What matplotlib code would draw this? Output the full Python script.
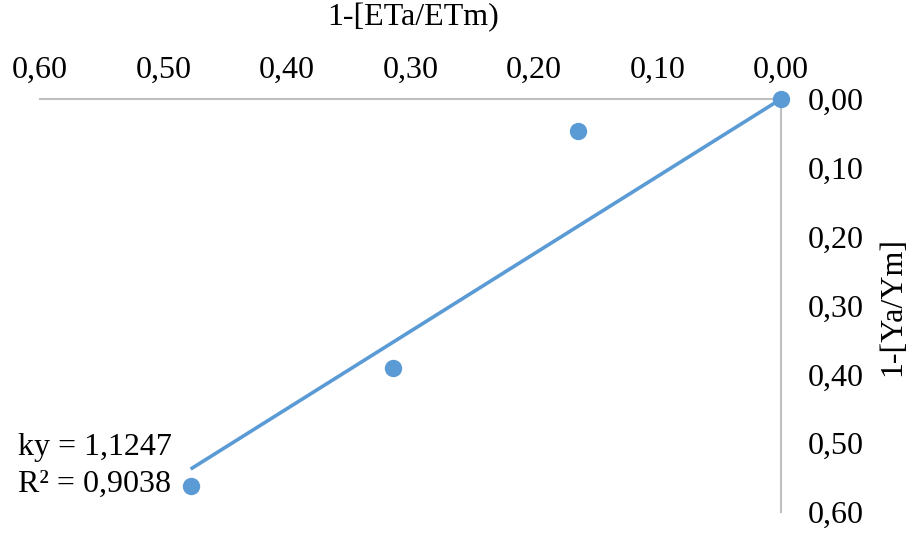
import matplotlib

matplotlib.use("Agg")
import matplotlib.pyplot as plt
import numpy as np

# data
eta_deficit = [0.000, 0.164, 0.314, 0.478]   # 1-[ETa/ETm)
yield_deficit = [0.000, 0.047, 0.391, 0.562]  # 1-[Ya/Ym]
ky = 1.1247
r2 = 0.9038
tick_values = [0.0, 0.1, 0.2, 0.3, 0.4, 0.5, 0.6]

blue = "#5B9BD5"
grey = "#BFBFBF"

plt.rcParams["font.family"] = ["Liberation Serif", "DejaVu Serif"]

fig = plt.figure(figsize=(9.09, 5.34), dpi=100)
ax = fig.add_axes([40 / 909, 22 / 534, 741 / 909, 413 / 534])

# trendline through origin
x_fit = np.array([0.0, max(eta_deficit)])
ax.plot(x_fit, ky * x_fit, color=blue, lw=2.6, zorder=2,
        solid_capstyle="butt")
ax.plot(eta_deficit, yield_deficit, "o", color=blue, ms=11.5, zorder=3,
        clip_on=False)

ax.set_xlim(0.6, 0.0)
ax.set_ylim(0.6, 0.0)

ax.set_xticks(tick_values)
ax.set_yticks(tick_values)
fmt = lambda v: f"{v:.2f}".replace(".", ",")
ax.set_xticklabels([fmt(v) for v in tick_values])
ax.set_yticklabels([fmt(v) for v in tick_values])

ax.xaxis.tick_top()
ax.yaxis.tick_right()
ax.tick_params(axis="x", length=0, pad=10, labelsize=23)
ax.tick_params(axis="y", length=0, pad=19, labelsize=23)

for side in ["left", "bottom"]:
    ax.spines[side].set_visible(False)
for side in ["top", "right"]:
    ax.spines[side].set_color(grey)
    ax.spines[side].set_linewidth(1.5)

fig.text(413 / 909, 1 - 18 / 534, "1-[ETa/ETm)", ha="center", va="center",
         fontsize=23)
fig.text(893 / 909, 1 - 306 / 534, "1-[Ya/Ym]", ha="center", va="center",
         rotation=90, fontsize=23)

fig.text(18 / 909, 1 - 447 / 534, f"ky = {ky:.4f}".replace(".", ","),
         ha="left", va="center", fontsize=23)
fig.text(18 / 909, 1 - 484 / 534, f"R² = {r2:.4f}".replace(".", ","),
         ha="left", va="center", fontsize=23)

fig.savefig("out.png", dpi=100)
plt.close(fig)
